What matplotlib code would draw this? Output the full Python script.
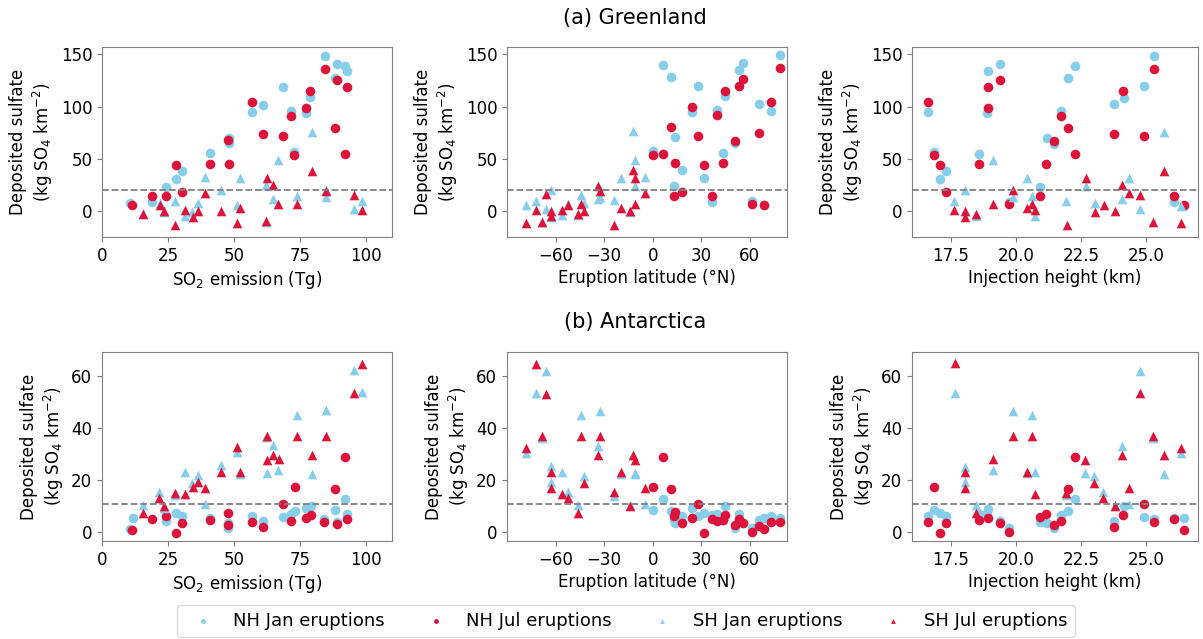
import numpy as np
import matplotlib
matplotlib.use('Agg')
import matplotlib.pyplot as plt

# ── Greenland vs SO2 emission ─────────────────────────────
g_so2_nhjan_x = [10.5, 19, 24.4, 28, 30.4, 41, 48, 48, 57, 61, 68.6, 71.8, 73, 77.5, 79, 84.4, 88.4, 89.2, 92, 93]
g_so2_nhjan_y = [8.3, 9, 23, 31, 39, 56, 70, 65, 95, 102, 119, 96, 57, 94, 109, 148, 127, 141, 139, 134]
g_so2_nhjul_x = [11.4, 19, 24.4, 28, 30.4, 41, 47.7, 48, 57, 61, 68.6, 71.8, 73, 77.5, 79, 84.4, 88.4, 89.2, 93, 92]
g_so2_nhjul_y = [6.4, 14.6, 14.6, 44, 18.5, 45.5, 68, 45.5, 104, 74, 72, 91, 53.5, 99, 115, 136, 80, 125, 119, 54.5]
g_so2_shjan_x = [15.7, 22, 23.7, 27.5, 31.4, 34, 36.5, 39, 45.3, 51.3, 52.3, 62.3, 62.3, 64.8, 66.8, 73.8, 79.5, 84.8, 85, 95.6, 98.5]
g_so2_shjan_y = [-2, 8, -0.6, 9.5, -4, -0.6, 8, 33, 20.7, 5.7, 32, -10, 25, 12, 49, 15, 76, 13.7, 20, 2.5, 10]
g_so2_shjul_x = [15.7, 22, 23.7, 27.5, 31.4, 34.4, 36.5, 39, 45.3, 51.3, 52.3, 62.3, 62.7, 64.8, 66.8, 73.8, 79.5, 85, 95.6, 98.5]
g_so2_shjul_y = [-3, 6.4, 0, -13, 1, -5.4, 0, 18, 0, -11, 3.2, -9.5, 32, 25, 7.3, 7.3, 39, 19.4, 16, 1]

# ── Greenland vs latitude ─────────────────────────────────
g_lat_nhjan_x = [0.2, 6.6, 11.4, 13.9, 13, 18, 28, 24.4, 31.5, 36.9, 39.5, 43.7, 45, 51, 53.6, 56, 61.5, 65.8, 69, 72.9, 78.7]
g_lat_nhjan_y = [57.7, 140, 128, 71, 24, 39.4, 120, 94.6, 31.4, 9, 96.5, 55.4, 110, 65, 134.6, 142, 9.6, 103, 6.4, 95.5, 149]
g_lat_nhjul_x = [0.2, 6.6, 11.4, 13.9, 13, 18, 24.4, 28, 31.5, 36.9, 39.5, 43.7, 45, 51, 53.6, 56, 61.5, 65.8, 69, 72.9, 78.7]
g_lat_nhjul_y = [54, 55, 80.4, 45.8, 14.7, 18.6, 99.4, 72.4, 44, 14.7, 91.7, 45.8, 115, 67.6, 120, 126, 7.4, 74.7, 5.8, 104.5, 137]
g_lat_shjan_x = [-78.5, -72, -68.5, -65.8, -62.7, -62.7, -56, -52.6, -46.4, -44.3, -42.2, -34, -32.3, -24, -19.3, -14, -12, -11.2, -10.8, -5]
g_lat_shjan_y = [5.8, 9.6, -10, 2.6, 20, -5.4, -3.2, 7.4, -3.2, 16, 8.3, 12, 13.8, 10.6, 32, -0.6, 76.3, 49, 24.4, 33]
g_lat_shjul_x = [-78.5, -72, -68.5, -65.8, -62.7, -62.7, -56, -52.6, -46.4, -44.3, -42.2, -34, -32.3, -24, -19.3, -14, -12, -11.2, -11.2, -5]
g_lat_shjul_y = [-11, 1, -10, 17, 0.3, -4.5, 1, 6.4, -2.2, 7.4, 0, 24.4, 19.6, -13.5, 3.5, 0.3, 39.4, 32, 7.4, 18]

# ── Greenland vs injection height ─────────────────────────
g_hgt_nhjan_x = [16.6, 16.83, 17.09, 17.32, 18.59, 18.91, 18.9, 19.38, 19.74, 20.92, 21.18, 21.45, 21.73, 21.99, 22.27, 23.76, 24.14, 24.92, 25.3, 26.07, 26.48]
g_hgt_nhjan_y = [95, 57, 30.6, 39, 55, 134, 94, 141, 9, 23, 70, 64, 96, 127, 139, 103, 108.6, 119.4, 148.4, 9, 5]
g_hgt_nhjul_x = [16.6, 16.83, 17.09, 17.32, 18.59, 18.91, 18.94, 19.38, 19.74, 20.92, 21.15, 21.45, 21.73, 21.99, 22.27, 23.76, 24.12, 24.92, 25.3, 26.07, 26.48]
g_hgt_nhjul_y = [104, 53.5, 44, 18.5, 45.5, 99, 119, 125, 7.3, 14.6, 45.5, 67, 91, 80, 54.5, 74, 115, 72, 136.3, 14.6, 5.7]
g_hgt_shjan_x = [17.63, 18.05, 18.46, 19.1, 19.9, 20.41, 20.62, 20.73, 21.93, 22.7, 23.05, 24.08, 24.36, 24.78, 25.7, 26.35]
g_hgt_shjan_y = [9.5, 20, -4, 49, 13.7, 32, 15, -4, 9.5, 24, 8.3, 11.5, 32, 2, 76, 5]
g_hgt_shjul_x = [17.63, 18.05, 18.05, 18.46, 19.1, 19.9, 20.41, 20.62, 20.73, 21.96, 22.7, 23.05, 23.4, 23.79, 24.08, 24.36, 24.78, 25.25, 25.7, 26.35]
g_hgt_shjul_y = [1, 0, -5.4, -2.2, 7.3, 20, 3.5, 7.3, 1, -13.4, 32, -0.6, 6.4, 0, 25.5, 18, 16, -10, 39, -11]

# ── Antarctica vs SO2 emission ────────────────────────────
a_so2_nhjan_x = [10.8, 11.8, 24.3, 28.1, 30.4, 40.9, 47.7, 47.7, 57, 61.1, 68.6, 71.8, 73.2, 77.5, 79.1, 84.2, 88.4, 89.2, 92.2, 93]
a_so2_nhjan_y = [0.9, 5.1, 4.1, 7.3, 6.2, 5.1, 1.5, 3.2, 6, 4.1, 5.8, 7, 8.1, 9, 9.9, 4.9, 8.4, 3.6, 12.6, 7]
a_so2_nhjul_x = [11.4, 19, 24.4, 28.1, 30.4, 40.9, 47.8, 47.7, 57, 61.1, 68.6, 71.8, 73.2, 77.5, 79.1, 84.2, 88.4, 89.2, 92.2, 93]
a_so2_nhjul_y = [0.6, 4.8, 6, -0.4, 3.5, 4.5, 7.3, 2.6, 3.9, 1.9, 10.7, 4.1, 17.1, 5.4, 6.4, 3.9, 16.3, 3, 28.9, 4.9]
a_so2_shjan_x = [15.4, 21.8, 23.7, 27.5, 31.4, 34.2, 36.5, 39, 45.3, 51.3, 52.3, 62.3, 62.7, 64.8, 66.8, 73.8, 79.5, 84.8, 95.6, 98.5]
a_so2_shjan_y = [10.3, 15.4, 9, 14.1, 23.1, 18.9, 21.9, 10.5, 25.7, 30.6, 22.1, 36.6, 22.8, 33.4, 24, 45, 22.2, 46.9, 62.3, 54]
a_so2_shjul_x = [15.4, 21.8, 23.7, 27.5, 31.4, 34.4, 36.5, 39, 45.3, 51.3, 52.3, 62.7, 62.7, 64.8, 67, 73.8, 79.5, 85, 95.6, 98.5]
a_so2_shjul_y = [7.3, 13.2, 10, 15, 14.4, 17.4, 19, 16.7, 23.1, 32.8, 22.9, 37, 27.6, 29.8, 28, 37, 29.8, 37, 53.6, 64.9]

# ── Antarctica vs latitude ────────────────────────────────
a_lat_nhjan_x = [0.2, 6.6, 11.4, 13.9, 13, 18, 24.4, 28, 31.5, 36.9, 39.5, 43.7, 45, 51, 53.6, 56, 61.5, 65.8, 69, 72.9, 78.7]
a_lat_nhjan_y = [8.4, 12.5, 8.1, 3.5, 4.5, 6.2, 9, 6.2, 7.3, 6.4, 6.7, 4.5, 10, 1.3, 7, 3.5, 1.3, 4.5, 5.4, 6, 5.1]
a_lat_nhjul_x = [0.2, 6.6, 11.4, 13.9, 13, 18, 24.4, 28, 31.5, 36.9, 39.5, 43.7, 45, 51, 53.6, 56, 61.5, 65.8, 69, 72.9, 78.7]
a_lat_nhjul_y = [17.1, 28.9, 16.5, 7.5, 6, 3.5, 5.4, 10.7, -0.4, 4.9, 4.1, 4.5, 6.4, 2.6, 4.9, 3.2, 0, 2.2, 0.9, 3.9, 3.9]
a_lat_shjan_x = [-78.5, -72, -68.5, -65.8, -62.7, -62.7, -56, -52.6, -46.4, -44.3, -42.2, -34, -32.3, -24, -19.3, -14, -12, -11.2, -10.8, -5]
a_lat_shjan_y = [30.5, 53.7, 36.2, 62, 25.3, 19, 23.1, 15.4, 10.3, 45, 21.5, 33.2, 46.7, 13.8, 22.1, 10.3, 29.6, 22.8, 22.1, 10.5]
a_lat_shjul_x = [-78.5, -72, -68.5, -65.8, -62.7, -62.7, -56, -52.6, -46.4, -44.3, -42.2, -34, -32.3, -24, -19.3, -14, -12, -11.2, -5]
a_lat_shjul_y = [32.5, 64.9, 36.9, 53.3, 22.9, 17, 14.4, 13.1, 7.1, 37, 18.9, 29.6, 37, 15.2, 22.9, 10, 29.6, 27.6, 16.7]

# ── Antarctica vs injection height ────────────────────────
a_hgt_nhjan_x = [16.6, 16.83, 17.09, 17.32, 18.59, 18.91, 18.9, 19.38, 19.74, 20.92, 21.18, 21.45, 21.73, 21.99, 22.27, 23.76, 24.14, 24.92, 25.3, 26.07, 26.45]
a_hgt_nhjan_y = [6.2, 8.4, 7.3, 6.2, 6.8, 8.6, 7.1, 4.1, 1.3, 3.9, 3.5, 1.3, 6.4, 8.1, 12.5, 4.1, 10, 5.8, 4.9, 5.1, 5.1]
a_hgt_nhjul_x = [16.6, 16.83, 17.09, 17.32, 18.59, 18.94, 19.38, 19.74, 20.92, 21.15, 21.45, 21.73, 21.99, 22.27, 23.76, 24.12, 24.92, 25.3, 26.07, 26.45]
a_hgt_nhjul_y = [3.9, 17.1, -0.4, 3.2, 4.5, 5.1, 3.2, 0, 5.8, 6.7, 2.6, 4.1, 16.5, 28.9, 1.7, 6.4, 10.7, 3.9, 4.9, 0.6]
a_hgt_shjan_x = [17.65, 18.05, 18.05, 18.46, 18.9, 19.1, 19.9, 20.41, 20.62, 20.73, 21.93, 22.66, 23.0, 23.36, 23.79, 24.08, 24.36, 24.78, 25.25, 25.7, 26.35]
a_hgt_shjan_y = [53.6, 25, 19, 10.3, 9, 23.8, 46.5, 22.5, 45, 22.9, 14.1, 22.8, 21.5, 15.4, 10.3, 33.2, 10.5, 62, 36, 22.2, 30.5]
a_hgt_shjul_x = [17.65, 18.05, 18.05, 18.46, 19.1, 19.9, 20.41, 20.62, 20.73, 21.93, 22.66, 23.0, 23.36, 23.79, 24.08, 24.36, 24.78, 25.25, 25.7, 26.35]
a_hgt_shjul_y = [65, 22.9, 17, 7.1, 27.9, 37, 22.9, 37, 14.4, 14.8, 27.6, 18.9, 13.1, 10, 29.6, 16.7, 53.6, 37, 29.8, 32.5]

grn_thresh = 20
ant_thresh = 10.5

panels = [
    [(g_so2_nhjan_x, g_so2_nhjan_y), (g_so2_nhjul_x, g_so2_nhjul_y), (g_so2_shjan_x, g_so2_shjan_y), (g_so2_shjul_x, g_so2_shjul_y)],
    [(g_lat_nhjan_x, g_lat_nhjan_y), (g_lat_nhjul_x, g_lat_nhjul_y), (g_lat_shjan_x, g_lat_shjan_y), (g_lat_shjul_x, g_lat_shjul_y)],
    [(g_hgt_nhjan_x, g_hgt_nhjan_y), (g_hgt_nhjul_x, g_hgt_nhjul_y), (g_hgt_shjan_x, g_hgt_shjan_y), (g_hgt_shjul_x, g_hgt_shjul_y)],
    [(a_so2_nhjan_x, a_so2_nhjan_y), (a_so2_nhjul_x, a_so2_nhjul_y), (a_so2_shjan_x, a_so2_shjan_y), (a_so2_shjul_x, a_so2_shjul_y)],
    [(a_lat_nhjan_x, a_lat_nhjan_y), (a_lat_nhjul_x, a_lat_nhjul_y), (a_lat_shjan_x, a_lat_shjan_y), (a_lat_shjul_x, a_lat_shjul_y)],
    [(a_hgt_nhjan_x, a_hgt_nhjan_y), (a_hgt_nhjul_x, a_hgt_nhjul_y), (a_hgt_shjan_x, a_hgt_shjan_y), (a_hgt_shjul_x, a_hgt_shjul_y)],
]
labels = ['NH Jan eruptions', 'NH Jul eruptions', 'SH Jan eruptions', 'SH Jul eruptions']
colors = ['#87CEEB', '#DC143C', '#87CEEB', '#DC143C']
markers = ['o', 'o', '^', '^']
xlabels = ['SO$_2$ emission (Tg)', 'Eruption latitude (°N)', 'Injection height (km)']
xlims = [(0, 110), (-90, 83), (16.0, 27.0)]
xticks = [[0, 25, 50, 75, 100], [-60, -30, 0, 30, 60], [17.5, 20.0, 22.5, 25.0]]

W, H = 1203, 639
fig = plt.figure(figsize=(W/100, H/100), dpi=100)
plt.rcParams['font.size'] = 12

lefts = [102, 507, 912]
widths = [290, 280, 286]
tops = [47, 352]
heights = [190, 189]

for i, series in enumerate(panels):
    r, c = divmod(i, 3)
    ax = fig.add_axes([lefts[c]/W, 1 - (tops[r] + heights[r])/H, widths[c]/W, heights[r]/H])
    for (x, y), lab, col, m in zip(series, labels, colors, markers):
        ax.scatter(x, y, s=48, c=col, marker=m, label=lab, linewidths=0)
    ax.axhline(grn_thresh if r == 0 else ant_thresh, color='gray', ls='--', lw=1.3)
    ax.set_xlim(xlims[c])
    ax.set_xticks(xticks[c])
    if r == 0:
        ax.set_ylim(-24.5, 157)
        ax.set_yticks([0, 50, 100, 150])
    else:
        ax.set_ylim(-3.6, 69.4)
        ax.set_yticks([0, 20, 40, 60])
    ax.set_xlabel(xlabels[c], fontsize=12, labelpad=3)
    ax.set_ylabel('Deposited sulfate\n(kg SO$_4$ km$^{-2}$)', fontsize=12)
    ax.tick_params(labelsize=12, color='gray')
    for sp in ax.spines.values():
        sp.set_color('gray')
    if i == 0:
        handles, labs = ax.get_legend_handles_labels()

fig.text(635/W, 1 - 18/H, '(a) Greenland', ha='center', va='center', fontsize=15)
fig.text(635/W, 1 - 322/H, '(b) Antarctica', ha='center', va='center', fontsize=15)
fig.legend(handles, labs, loc='lower center', bbox_to_anchor=(626/W, 2/H), ncol=4,
           fontsize=13, markerscale=0.5, handletextpad=0.7, columnspacing=1.8,
           borderaxespad=0, frameon=True, edgecolor='lightgray')

plt.savefig('out.png', dpi=100)
